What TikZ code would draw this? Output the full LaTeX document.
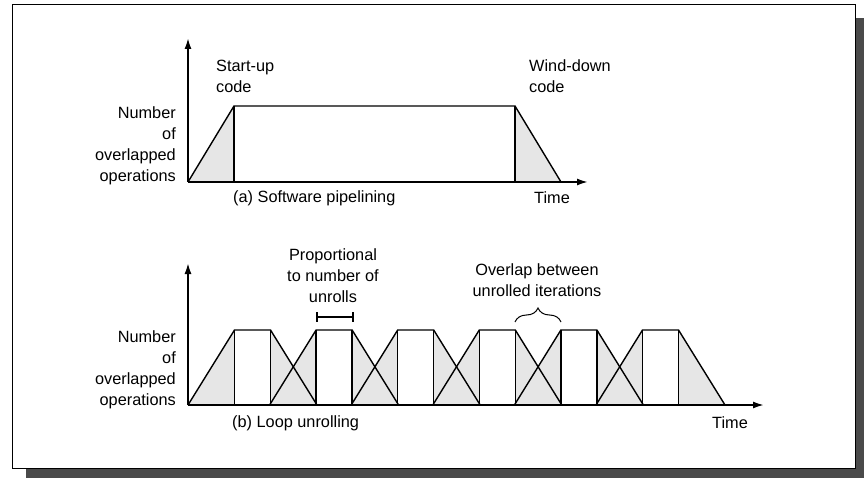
\documentclass[tikz,border=0pt]{standalone}
\usepackage{fontspec}
\setmainfont{Liberation Sans}
\usetikzlibrary{arrows.meta,decorations.pathreplacing}
\definecolor{shadowgrey}{HTML}{4A4A4A}
\definecolor{shadegrey}{HTML}{E6E6E6}
\begin{document}
\begin{tikzpicture}[x=1pt,y=-1pt,
  lbl/.style={inner sep=0pt,font=\fontsize{16.3}{21}\selectfont},
  axis/.style={line width=1.8pt,-{Latex[length=11pt,width=7pt]}},
  trap/.style={line width=1.4pt,line join=miter},
  shade/.style={fill=shadegrey}]
\useasboundingbox (0,0) rectangle (864,478);
\fill[shadowgrey] (26,18) rectangle (864,478);
\draw[fill=white,line width=1pt] (12,5) rectangle (855,468);

% ---------- (a) Software pipelining ----------
\coordinate (oa) at (188,182);
\coordinate (ya) at (188,38);
\coordinate (xa) at (588,182);
\fill[shade] (188,182) -- (234,106) -- (234,182) -- cycle;
\fill[shade] (515,106) -- (561,182) -- (515,182) -- cycle;
\draw[trap] (188,182) -- (234,106) -- (515,106) -- (561,182);
\draw[trap] (234,106) -- (234,182);
\draw[trap] (515,106) -- (515,182);
\draw[axis] (oa) -- (ya);
\draw[axis] (oa) -- (xa);

\node[lbl,anchor=west,align=left] (su) at (216,76.5) {Start-up\\code};
\node[lbl,anchor=west,align=left] (wd) at (529,76.5) {Wind-down\\code};
\node[lbl,anchor=east,align=right] (na) at (176,146) {Number\\of\\overlapped\\operations};
\node[lbl,anchor=west] (ta) at (534,198) {Time};
\node[lbl,anchor=west] (ca) at (233,198) {(a) Software pipelining};

% ---------- (b) Loop unrolling ----------
\coordinate (ob) at (188,405);
\coordinate (yb) at (188,263);
\coordinate (xb) at (764,405);
\foreach \i in {0,...,5}{
  \pgfmathsetmacro{\s}{188+81.6*\i}
  \fill[shade] (\s,405) -- ({\s+46.5},330) -- ({\s+46.5},405) -- cycle;
  \fill[shade] ({\s+82.5},330) -- ({\s+129},405) -- ({\s+82.5},405) -- cycle;
}
\foreach \i in {0,...,5}{
  \pgfmathsetmacro{\s}{188+81.6*\i}
  \draw[trap] (\s,405) -- ({\s+46.5},330) -- ({\s+82.5},330) -- ({\s+129},405);
  \draw[trap] ({\s+46.5},330) -- ({\s+46.5},405);
  \draw[trap] ({\s+82.5},330) -- ({\s+82.5},405);
}
\draw[axis] (ob) -- (yb);
\draw[axis] (ob) -- (xb);

\node[lbl,anchor=east,align=right] (nb) at (176,369.5) {Number\\of\\overlapped\\operations};
\node[lbl,align=center] (pr) at (333,276) {Proportional\\to number of\\unrolls};
\node[lbl,align=center] (ov) at (537,280.5) {Overlap between\\unrolled iterations};
\node[lbl,anchor=west] (tb) at (712,423) {Time};
\node[lbl,anchor=west] (cb) at (232,423) {(b) Loop unrolling};

% interval marker
\coordinate (ml) at (317,317);
\coordinate (mr) at (353,317);
\draw[line width=1.3pt] (ml) -- (mr);
\draw[line width=1.3pt] (317,312) -- (317,322);
\draw[line width=1.3pt] (353,312) -- (353,322);

% brace
\coordinate (bl) at (515,322);
\coordinate (br) at (561,322);
\draw[line width=1pt,decorate,decoration={brace,amplitude=14pt}] (bl) -- (br);
\end{tikzpicture}
\end{document}
